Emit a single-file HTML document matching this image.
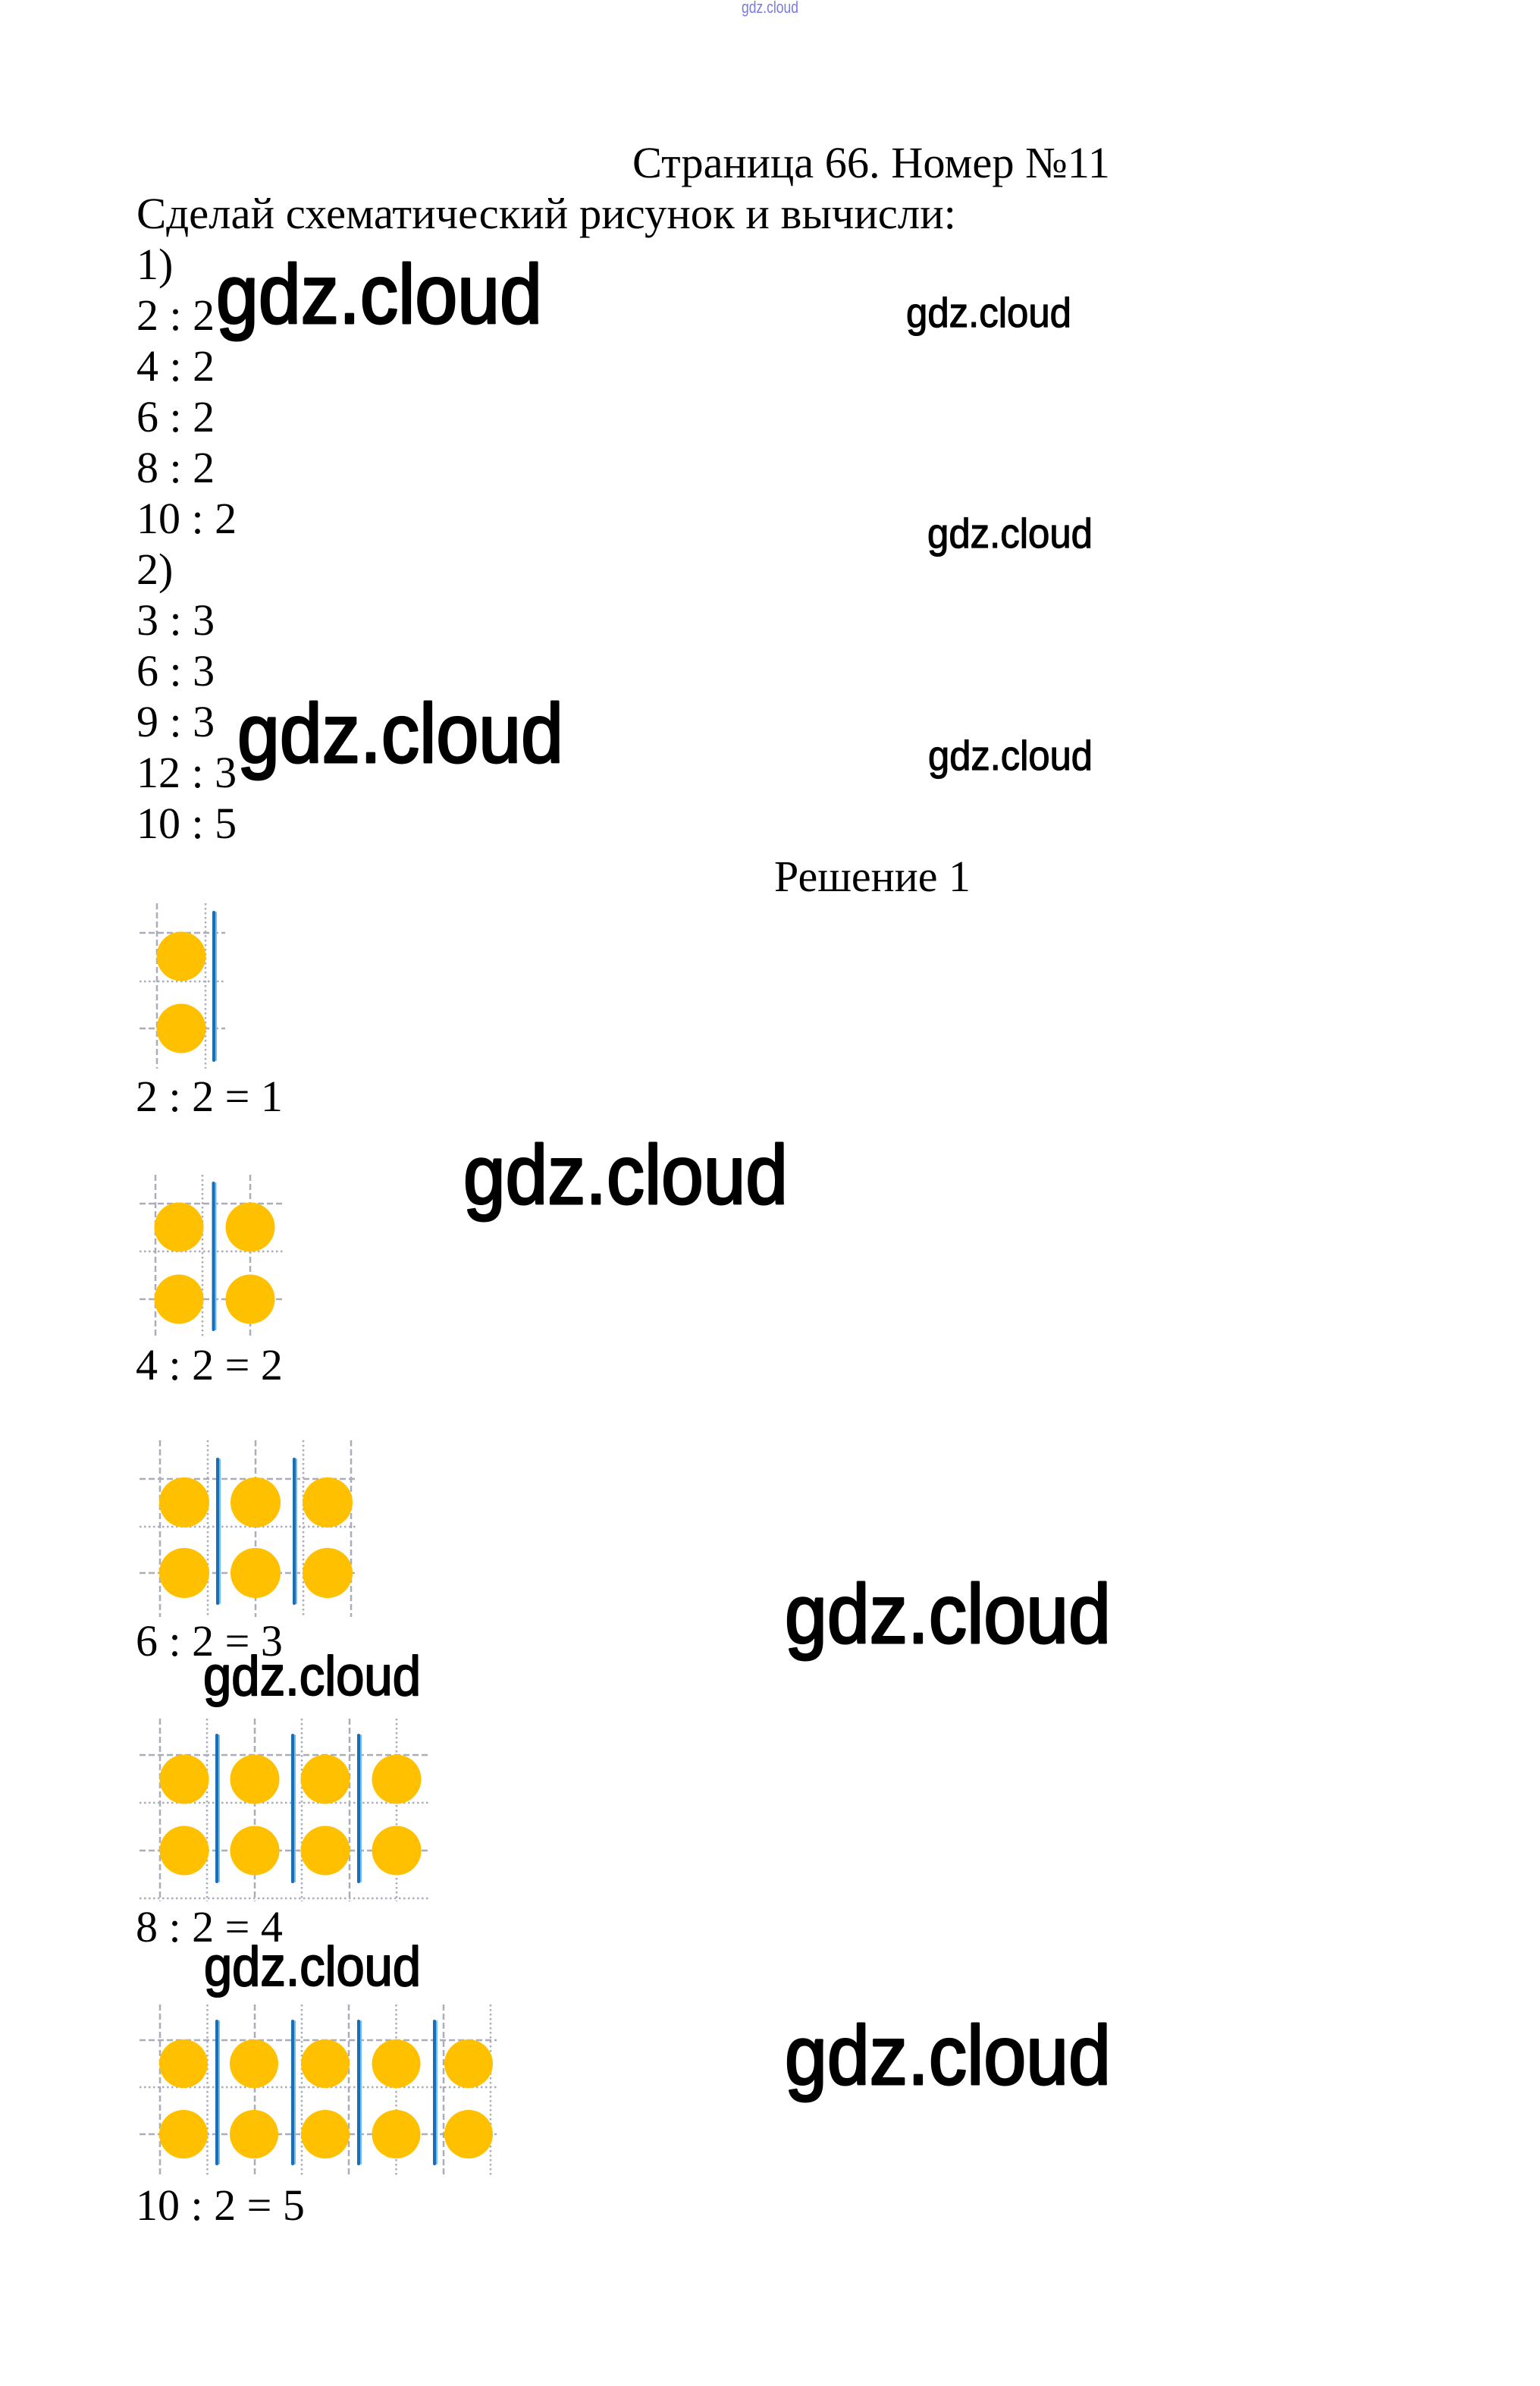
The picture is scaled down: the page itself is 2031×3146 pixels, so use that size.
<!DOCTYPE html>
<html>
<head>
<meta charset="utf-8">
<style>
html,body{margin:0;padding:0;background:#ffffff;width:2031px;height:3146px;overflow:hidden}
svg{display:block}
.t{font-family:"Liberation Serif","Times New Roman",serif;font-size:58px;fill:#000}
.w{font-family:"Liberation Sans",Arial,sans-serif;font-weight:normal;fill:#000;stroke:#000;stroke-linejoin:round}
.d{stroke:#a9aeb9;stroke-width:2.5;stroke-dasharray:8 4;fill:none}
.o{stroke:#a9aeb9;stroke-width:2.5;stroke-dasharray:2.5 3.5;fill:none}
.c{fill:#ffc000}
.bd{stroke:#1b6db5;stroke-width:4;stroke-linecap:round}
.bl{stroke:#6ec0ee;stroke-width:2;stroke-linecap:round}
</style>
</head>
<body>
<svg width="2031" height="3146" viewBox="0 0 2031 3146" xmlns="http://www.w3.org/2000/svg">
<rect x="0" y="0" width="2031" height="3146" fill="#fff"/>

<!-- tiny top watermark -->
<text x="978" y="17" font-family="Liberation Sans, sans-serif" font-size="22" fill="#7a7ae6" textLength="75" lengthAdjust="spacingAndGlyphs">gdz.cloud</text>

<!-- header text -->
<text class="t" x="834" y="234" textLength="630" lengthAdjust="spacingAndGlyphs">Страница 66. Номер №11</text>
<text class="t" x="180" y="301" textLength="1081" lengthAdjust="spacingAndGlyphs">Сделай схематический рисунок и вычисли:</text>
<text class="t" x="180" y="368">1)</text>
<text class="t" x="180" y="435">2 : 2</text>
<text class="t" x="180" y="502">4 : 2</text>
<text class="t" x="180" y="569">6 : 2</text>
<text class="t" x="180" y="636">8 : 2</text>
<text class="t" x="180" y="703">10 : 2</text>
<text class="t" x="180" y="770">2)</text>
<text class="t" x="180" y="837">3 : 3</text>
<text class="t" x="180" y="904">6 : 3</text>
<text class="t" x="180" y="971">9 : 3</text>
<text class="t" x="180" y="1038">12 : 3</text>
<text class="t" x="180" y="1105">10 : 5</text>
<text class="t" x="1021" y="1175" textLength="259" lengthAdjust="spacingAndGlyphs">Решение 1</text>

<!-- Figure 1 -->
<line class="d" x1="207" y1="1191" x2="207" y2="1409"/>
<line class="o" x1="271" y1="1191" x2="271" y2="1409"/>
<line class="d" x1="184" y1="1230" x2="297" y2="1230"/>
<line class="o" x1="184" y1="1294" x2="297" y2="1294"/>
<line class="d" x1="184" y1="1356" x2="297" y2="1356"/>
<circle class="c" cx="239" cy="1261" r="32.5"/>
<circle class="c" cx="239" cy="1356" r="32.5"/>
<line class="bl" x1="285" y1="1203" x2="285" y2="1398"/>
<line class="bd" x1="282" y1="1203" x2="282" y2="1398"/>
<text class="t" x="179" y="1465">2 : 2 = 1</text>

<!-- Figure 2 -->
<line class="d" x1="205" y1="1549" x2="205" y2="1764"/>
<line class="o" x1="267" y1="1549" x2="267" y2="1764"/>
<line class="d" x1="330" y1="1549" x2="330" y2="1764"/>
<line class="d" x1="184" y1="1587" x2="373" y2="1587"/>
<line class="o" x1="184" y1="1650" x2="373" y2="1650"/>
<line class="d" x1="184" y1="1713" x2="373" y2="1713"/>
<circle class="c" cx="236" cy="1618" r="32.5"/>
<circle class="c" cx="330" cy="1618" r="32.5"/>
<circle class="c" cx="236" cy="1713" r="32.5"/>
<circle class="c" cx="330" cy="1713" r="32.5"/>
<line class="bl" x1="284.5" y1="1560" x2="284.5" y2="1753"/>
<line class="bd" x1="281.5" y1="1560" x2="281.5" y2="1753"/>
<text class="t" x="179" y="1819">4 : 2 = 2</text>

<!-- Figure 3 -->
<line class="d" x1="211" y1="1899" x2="211" y2="2132"/>
<line class="o" x1="274" y1="1899" x2="274" y2="2132"/>
<line class="d" x1="337" y1="1899" x2="337" y2="2132"/>
<line class="o" x1="400" y1="1899" x2="400" y2="2132"/>
<line class="d" x1="463" y1="1899" x2="463" y2="2132"/>
<line class="d" x1="184" y1="1950" x2="472" y2="1950"/>
<line class="o" x1="184" y1="2013" x2="472" y2="2013"/>
<line class="d" x1="184" y1="2074" x2="472" y2="2074"/>
<circle class="c" cx="243" cy="1981" r="33"/>
<circle class="c" cx="337" cy="1981" r="33"/>
<circle class="c" cx="432" cy="1981" r="33"/>
<circle class="c" cx="243" cy="2074" r="33"/>
<circle class="c" cx="337" cy="2074" r="33"/>
<circle class="c" cx="432" cy="2074" r="33"/>
<line class="bl" x1="290" y1="1924" x2="290" y2="2114"/>
<line class="bd" x1="287" y1="1924" x2="287" y2="2114"/>
<line class="bl" x1="391" y1="1924" x2="391" y2="2114"/>
<line class="bd" x1="388" y1="1924" x2="388" y2="2114"/>
<text class="t" x="179" y="2183">6 : 2 = 3</text>

<!-- Figure 4 -->
<line class="d" x1="211" y1="2266" x2="211" y2="2507"/>
<line class="o" x1="273" y1="2266" x2="273" y2="2507"/>
<line class="d" x1="336" y1="2266" x2="336" y2="2507"/>
<line class="o" x1="398" y1="2266" x2="398" y2="2507"/>
<line class="d" x1="461" y1="2266" x2="461" y2="2507"/>
<line class="o" x1="523" y1="2266" x2="523" y2="2507"/>
<line class="d" x1="184" y1="2314" x2="565" y2="2314"/>
<line class="o" x1="184" y1="2377" x2="565" y2="2377"/>
<line class="d" x1="184" y1="2440" x2="565" y2="2440"/>
<line class="o" x1="184" y1="2503" x2="565" y2="2503"/>
<circle class="c" cx="243" cy="2346" r="32.5"/>
<circle class="c" cx="336" cy="2346" r="32.5"/>
<circle class="c" cx="429" cy="2346" r="32.5"/>
<circle class="c" cx="523" cy="2346" r="32.5"/>
<circle class="c" cx="243" cy="2440" r="32.5"/>
<circle class="c" cx="336" cy="2440" r="32.5"/>
<circle class="c" cx="429" cy="2440" r="32.5"/>
<circle class="c" cx="523" cy="2440" r="32.5"/>
<line class="bl" x1="289" y1="2288" x2="289" y2="2481"/>
<line class="bd" x1="286" y1="2288" x2="286" y2="2481"/>
<line class="bl" x1="389" y1="2288" x2="389" y2="2481"/>
<line class="bd" x1="386" y1="2288" x2="386" y2="2481"/>
<line class="bl" x1="476" y1="2288" x2="476" y2="2481"/>
<line class="bd" x1="473" y1="2288" x2="473" y2="2481"/>
<text class="t" x="179" y="2560">8 : 2 = 4</text>

<!-- Figure 5 -->
<line class="d" x1="211" y1="2643" x2="211" y2="2871"/>
<line class="o" x1="273.5" y1="2643" x2="273.5" y2="2871"/>
<line class="d" x1="336" y1="2643" x2="336" y2="2871"/>
<line class="o" x1="398" y1="2643" x2="398" y2="2871"/>
<line class="d" x1="460" y1="2643" x2="460" y2="2871"/>
<line class="o" x1="522.5" y1="2643" x2="522.5" y2="2871"/>
<line class="d" x1="585" y1="2643" x2="585" y2="2871"/>
<line class="o" x1="647" y1="2643" x2="647" y2="2871"/>
<line class="d" x1="184" y1="2690" x2="655" y2="2690"/>
<line class="o" x1="184" y1="2752" x2="655" y2="2752"/>
<line class="d" x1="184" y1="2814" x2="655" y2="2814"/>
<circle class="c" cx="242" cy="2721" r="32"/>
<circle class="c" cx="335" cy="2721" r="32"/>
<circle class="c" cx="429" cy="2721" r="32"/>
<circle class="c" cx="522.5" cy="2721" r="32"/>
<circle class="c" cx="618" cy="2721" r="32"/>
<circle class="c" cx="242" cy="2814" r="32"/>
<circle class="c" cx="335" cy="2814" r="32"/>
<circle class="c" cx="429" cy="2814" r="32"/>
<circle class="c" cx="522.5" cy="2814" r="32"/>
<circle class="c" cx="618" cy="2814" r="32"/>
<line class="bl" x1="289" y1="2665" x2="289" y2="2853"/>
<line class="bd" x1="286" y1="2665" x2="286" y2="2853"/>
<line class="bl" x1="389" y1="2665" x2="389" y2="2853"/>
<line class="bd" x1="386" y1="2665" x2="386" y2="2853"/>
<line class="bl" x1="476" y1="2665" x2="476" y2="2853"/>
<line class="bd" x1="473" y1="2665" x2="473" y2="2853"/>
<line class="bl" x1="576" y1="2665" x2="576" y2="2853"/>
<line class="bd" x1="573" y1="2665" x2="573" y2="2853"/>
<text class="t" x="179" y="2927">10 : 2 = 5</text>

<!-- watermarks -->
<text class="w" x="285" y="426" font-size="110" stroke-width="3" textLength="430" lengthAdjust="spacingAndGlyphs">gdz.cloud</text>
<text class="w" x="313" y="1005" font-size="110" stroke-width="3" textLength="430" lengthAdjust="spacingAndGlyphs">gdz.cloud</text>
<text class="w" x="611" y="1587" font-size="110" stroke-width="3" textLength="428" lengthAdjust="spacingAndGlyphs">gdz.cloud</text>
<text class="w" x="1035" y="2166" font-size="110" stroke-width="3" textLength="430" lengthAdjust="spacingAndGlyphs">gdz.cloud</text>
<text class="w" x="1035" y="2748" font-size="110" stroke-width="3" textLength="430" lengthAdjust="spacingAndGlyphs">gdz.cloud</text>
<text class="w" x="268" y="2235" font-size="73" stroke-width="2" textLength="287" lengthAdjust="spacingAndGlyphs">gdz.cloud</text>
<text class="w" x="269" y="2618" font-size="73" stroke-width="2" textLength="286" lengthAdjust="spacingAndGlyphs">gdz.cloud</text>
<text class="w" x="1195" y="431" font-size="55" stroke-width="1.2" textLength="218" lengthAdjust="spacingAndGlyphs">gdz.cloud</text>
<text class="w" x="1223" y="722" font-size="55" stroke-width="1.2" textLength="218" lengthAdjust="spacingAndGlyphs">gdz.cloud</text>
<text class="w" x="1224" y="1015" font-size="55" stroke-width="1.2" textLength="217" lengthAdjust="spacingAndGlyphs">gdz.cloud</text>
</svg>
</body>
</html>
